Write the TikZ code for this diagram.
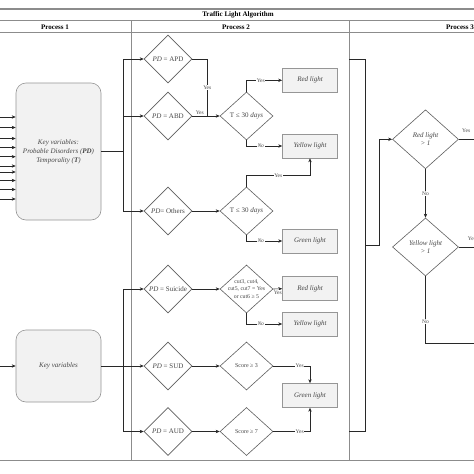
\documentclass[tikz,border=0pt]{standalone}
\usepackage{xcolor}
\usepackage{fontspec}
\setmainfont{Liberation Serif}
\usepackage{tikz}
\usetikzlibrary{shapes.geometric, arrows.meta, positioning}
\definecolor{framegray}{RGB}{140,140,140}
\definecolor{edgegray}{RGB}{95,95,95}
\definecolor{boxfill}{RGB}{242,242,242}
\definecolor{boxdraw}{RGB}{150,150,150}
\definecolor{inkgray}{RGB}{70,70,70}
\definecolor{wiregray}{RGB}{40,40,40}

\begin{document}
\begin{tikzpicture}[x=1pt, y=-1pt]
    \tikzstyle{frame} = [draw=framegray, line width=0.8pt]
    \tikzstyle{header} = [font=\fontsize{7}{8}\selectfont\bfseries, inner sep=0pt]
    \tikzstyle{keybox} = [rectangle, rounded corners=10pt, minimum width=85pt, draw=boxdraw, fill=boxfill, line width=0.6pt, text=inkgray, align=center, font=\fontsize{7}{9}\selectfont\itshape]
    \tikzstyle{decision} = [diamond, minimum width=48pt, minimum height=48pt, inner sep=0pt, draw=edgegray, line width=0.6pt, fill=white, text=inkgray, align=center, font=\fontsize{7}{8}\selectfont]
    \tikzstyle{light} = [rectangle, minimum width=55pt, minimum height=24pt, draw=boxdraw, fill=boxfill, line width=0.6pt, text=inkgray, font=\fontsize{7}{8}\selectfont\itshape]
    \tikzstyle{wire} = [draw=wiregray, line width=0.6pt, >={Stealth[length=4pt, width=3.4pt]}]
    \tikzstyle{tag} = [fill=white, inner sep=0.6pt, text=inkgray, font=\fontsize{5.5}{6}\selectfont]

    \fill [white] (0,0) rectangle (474,474);
    \useasboundingbox (0,0) rectangle (474,474);

    \draw [frame, line width=1.6pt] (0,8.7) -- (480,8.7);
    \draw [frame] (0,20.7) -- (480,20.7);
    \draw [frame] (0,32.3) -- (480,32.3);
    \draw [frame] (131.7,20.7) -- (131.7,460.7);
    \draw [frame] (349.3,20.7) -- (349.3,460.7);
    \draw [frame] (0,460.7) -- (480,460.7);

    \node (title) [header] at (238,15) {Traffic Light Algorithm};
    \node (proc1) [header] at (55,27) {Process 1};
    \node (proc2) [header] at (236,27) {Process 2};
    \node (proc3) [header] at (460,27) {Process 3};

    \node (keyvar1) [keybox, minimum height=137pt] at (58.5,151.5) {Key variables:\\Probable Disorders (\textbf{PD})\\Temporality (\textbf{T})};
    \node (keyvar2) [keybox, minimum height=72pt] at (58.5,366) {Key variables};

    \node (apd) [decision] at (168,59) {\textit{PD} = APD};
    \node (abd) [decision] at (168,116) {\textit{PD} = ABD};
    \node (others) [decision] at (168,211) {\textit{PD}= Others};
    \node (suicide) [decision] at (168,289) {\textit{PD} = Suicide};
    \node (sud) [decision] at (168,366) {\textit{PD} = SUD};
    \node (aud) [decision] at (168,431.5) {\textit{PD} = AUD};
    \node (time1) [decision, minimum width=53pt] at (246.5,116) {T ≤ 30 \textit{days}};
    \node (time2) [decision, minimum width=53pt] at (246.5,211) {T ≤ 30 \textit{days}};
    \node (cuts) [decision, minimum width=53pt, font=\fontsize{5.8}{7.3}\selectfont] at (246.5,289) {\makebox[0pt]{cut3, cut4,}\\\makebox[0pt]{cut5, cut7 = Yes}\\\makebox[0pt]{or cut6 ≥ 5}};
    \node (score3) [decision, minimum width=53pt, font=\fontsize{6}{7}\selectfont] at (246.5,366) {Score ≥ 3};
    \node (score7) [decision, minimum width=53pt, font=\fontsize{6}{7}\selectfont] at (246.5,431.5) {Score ≥ 7};

    \node (red1) [light] at (310,80.3) {Red light};
    \node (yellow1) [light] at (310,146) {Yellow light};
    \node (green1) [light] at (310,241) {Green light};
    \node (red2) [light] at (310,288.7) {Red light};
    \node (yellow2) [light] at (310,324) {Yellow light};
    \node (green2) [light] at (310,395.5) {Green light};

    \node (redcheck) [decision, minimum width=66pt, minimum height=59pt, font=\fontsize{7}{8.5}\selectfont\itshape] at (425.5,139.3) {Red light\\> 1};
    \node (yellowcheck) [decision, minimum width=66pt, minimum height=58pt, font=\fontsize{7}{8.5}\selectfont\itshape] at (425.5,247) {Yellow light\\> 1};

    \foreach \y [count=\i] in {117,127.5,138.5,147.5,156.7,166,172,180.5,189.5,199} {
        \coordinate (feed\i) at (0,\y);
        \draw [wire, ->] (feed\i) -- (feed\i -| keyvar1.west);
    }
    \coordinate (feed11) at (0,366);
    \draw [wire, ->] (feed11) -- (keyvar2.west);

    \coordinate (bus1) at (123,151.5);
    \draw [wire] (keyvar1.east) -- (bus1);
    \draw [wire, ->] (bus1) |- (apd.west);
    \draw [wire, ->] (bus1) |- (abd.west);
    \draw [wire, ->] (bus1) |- (others.west);
    \coordinate (bus2) at (123,366);
    \draw [wire, ->] (keyvar2.east) -- (sud.west);
    \draw [wire, ->] (bus2) |- (suicide.west);
    \draw [wire, ->] (bus2) |- (aud.west);

    \coordinate (join1) at (207.3,116);
    \draw [wire] (apd.east) -| node [tag, pos=0.75] {Yes} (join1);
    \draw [wire] (abd.east) -- node [tag, above=1pt] {Yes} (join1);
    \draw [wire, ->] (join1) -- (time1.west);
    \draw [wire, ->] (time1.north) |- node [tag, pos=0.7] {Yes} (red1.west);
    \draw [wire, ->] (time1.south) |- node [tag, pos=0.7] {\textit{No}} (yellow1.west);

    \draw [wire, ->] (others.east) -- (time2.west);
    \draw [wire, ->] (time2.north) |- node [tag, pos=0.75] {Yes} ([yshift=-17.3pt]yellow1.south) -- (yellow1.south);
    \draw [wire, ->] (time2.south) |- node [tag, pos=0.7] {\textit{No}} (green1.west);

    \draw [wire, ->] (suicide.east) -- (cuts.west);
    \draw [wire, ->] (cuts.east) -- node [tag, below=1pt] {Yes} (red2.west);
    \draw [wire, ->] (cuts.south) |- node [tag, pos=0.7] {\textit{No}} (yellow2.west);
    \draw [wire, ->] (sud.east) -- (score3.west);
    \draw [wire, ->] (score3.east) -| node [tag, pos=0.36] {Yes} (green2.north);
    \draw [wire, ->] (aud.east) -- (score7.west);
    \draw [wire, ->] (score7.east) -| node [tag, pos=0.36] {Yes} (green2.south);

    \coordinate (gather1) at (349.3,59);
    \coordinate (gathertop) at (365,59);
    \coordinate (gatherbot) at (365,431.5);
    \coordinate (gather2) at (349.3,431.5);
    \coordinate (gathermid) at (365,245);
    \coordinate (gatherknee) at (379,245);
    \draw [wire, line width=1pt] (gather1) -- (gathertop) -- (gatherbot) -- (gather2);
    \draw [wire, line width=1pt, ->] (gathermid) -- (gatherknee) |- (redcheck.west);

    \coordinate (redout) at (480,139.3);
    \draw [wire] (redcheck.east) -- node [tag, above=6pt, pos=0.35] {Yes} (redout);
    \draw [wire, ->] (redcheck.south) -- node [tag] {No} (yellowcheck.north);
    \coordinate (yellowout) at (480,247);
    \draw [wire] (yellowcheck.east) -- node [tag, above=6pt, pos=0.62] {Yes} (yellowout);
    \coordinate (noneout) at (480,343.3);
    \draw [wire] (yellowcheck.south) |- node [tag, pos=0.34] {No} (noneout);
\end{tikzpicture}
\end{document}
